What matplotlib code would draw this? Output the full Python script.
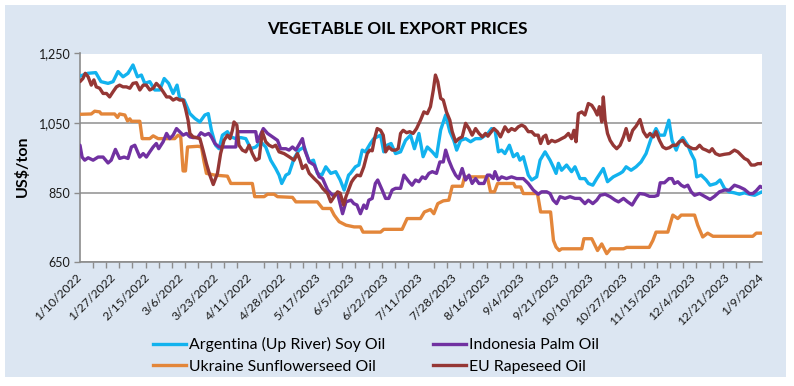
import matplotlib
matplotlib.use("Agg")
import matplotlib.pyplot as plt
from matplotlib.patches import Rectangle
from matplotlib.lines import Line2D
from matplotlib.ticker import FuncFormatter

plt.rcParams['font.family'] = ['Lato', 'DejaVu Sans']

# ---- data (x = weekday index, 0 = first date) ----
tick_labels = ["1/10/2022", "1/27/2022", "2/15/2022", "3/6/2022", "3/23/2022", "4/11/2022",
               "4/28/2022", "5/17/2023", "6/5/2023", "6/22/2023", "7/11/2023", "7/28/2023",
               "8/16/2023", "9/4/2023", "9/21/2023", "10/10/2023", "10/27/2023", "11/15/2023",
               "12/4/2023", "12/21/2023", "1/9/2024"]

arg_x = [0, 3, 6, 8, 10.7, 12.6, 14.5, 16.4, 18.3, 20.2, 21.9, 23.4, 24.7, 26.6, 28.5, 30.4, 32.1,
         33.8, 35.5, 37, 38, 39.7, 41.9, 43.8, 45.7, 47.6, 48.9, 50.1, 51.7, 53, 54.3, 56.2, 57.5,
         59.4, 61.3, 63.2, 65.1, 67, 68.9, 70.8, 72.7, 74.6, 75.9, 76.9, 78.5, 79.7, 81.6, 83.5,
         85.5, 87.4, 89, 90.5, 92.2, 93.7, 95.6, 97.5, 99.2, 100.7, 102.4, 103.1, 105, 106.3,
         107.6, 108.8, 110.7, 112, 113.3, 114.6, 115.8, 117.1, 118.6, 120.3, 122.2, 124.1, 126,
         127.5, 129.2, 130.8, 132.4, 134.3, 135.9, 137.5, 139.4, 141, 142.5, 143.6, 145.1, 147,
         148.9, 150.8, 152.7, 154.6, 155.5, 156.9, 158.2, 159.5, 160.7, 162, 163.7, 165.2, 166.7,
         167.7, 169, 170.9, 172.2, 174.1, 175.4, 177.3, 179.2, 180.4, 181.5, 182.4, 183.6, 185.5,
         187.4, 188.7, 190.6, 192.5, 193.8, 195.5, 197, 199.5, 201.1, 203.3, 205.9, 206.9, 208.2,
         210.1, 212, 213.9, 215.8, 217.7, 219.6, 220.9, 222.8, 224.5, 225.7, 227.3, 228.5, 229.8,
         231.7, 233, 234.3, 235.1, 236.8, 238.7, 240.2, 242.5, 244, 245.7, 247.4, 249.5, 251.4,
         253.3, 255.2, 257.2, 259.1, 260]
arg_v = [1185, 1193, 1195, 1169, 1164, 1169, 1198, 1183, 1193, 1217, 1183, 1188, 1164, 1169, 1145,
         1145, 1178, 1164, 1135, 1159, 1121, 1116, 1077, 1063, 1053, 1073, 1077, 1029, 986, 976,
         1015, 1025, 1010, 1005, 1008, 1005, 976, 981, 996, 981, 943, 919, 900, 876, 900, 905, 948,
         972, 981, 938, 943, 905, 900, 924, 905, 910, 886, 857, 900, 905, 924, 929, 972, 967, 991,
         1005, 1010, 1015, 967, 986, 991, 962, 967, 1000, 1015, 976, 1020, 953, 981, 967, 953, 1030,
         1073, 1025, 1000, 972, 1000, 1005, 996, 1005, 1005, 1015, 1020, 1034, 1030, 967, 972, 962,
         986, 953, 962, 943, 953, 900, 886, 895, 943, 967, 943, 924, 905, 934, 914, 929, 910, 924,
         890, 890, 876, 871, 890, 919, 881, 895, 905, 910, 924, 914, 924, 938, 962, 1005, 1034,
         1015, 1015, 1058, 1000, 972, 996, 1008, 986, 962, 943, 895, 900, 886, 871, 876, 886, 862,
         852, 849, 845, 849, 845, 842, 849, 852]

ukr_x = [0, 4.3, 5.6, 7.5, 8.1, 13.2, 14.3, 15.1, 17.1, 18.1, 19, 19.6, 22.8, 23.7, 26.6, 27.9,
         29.8, 36.1, 37.4, 38.4, 39.3, 40.2, 41, 45, 46.3, 47.3, 48.2, 51.4, 56.2, 57.5, 65.7, 66.6,
         70.2, 71.5, 74, 75.3, 81, 82.3, 90.5, 92.5, 95.6, 96.9, 98.8, 101.4, 104.5, 106.9, 107.9,
         114.6, 115.8, 122.8, 124.7, 129.8, 131.3, 133.6, 134.9, 136.4, 138.5, 140.6, 141.9, 145.7,
         146.6, 155.3, 156.5, 158, 159.2, 165.3, 166, 168, 169, 174.4, 175.6, 179.4, 180.5, 181.5,
         182.7, 183.6, 191.3, 192.1, 195.1, 197.3, 198.9, 200.8, 202.3, 207.2, 208.4, 217, 218.4,
         219.6, 224.1, 226, 227.9, 229.2, 234.3, 235.5, 237.4, 239.3, 241.3, 256.5, 257.8, 260]
ukr_v = [1075, 1076, 1084, 1082, 1076, 1076, 1066, 1076, 1073, 1056, 1062, 1055, 1055, 1005, 1005,
         1013, 1005, 1005, 1015, 1010, 912, 912, 981, 983, 981, 938, 905, 900, 897, 876, 876, 838,
         838, 845, 845, 838, 836, 823, 823, 804, 804, 785, 766, 756, 751, 751, 736, 736, 744, 744,
         775, 775, 794, 801, 789, 818, 826, 828, 868, 868, 895, 895, 852, 852, 876, 876, 866, 866,
         847, 847, 794, 794, 712, 693, 683, 688, 688, 717, 717, 683, 702, 674, 688, 688, 692, 692,
         712, 736, 736, 785, 775, 785, 785, 756, 722, 733, 724, 724, 733, 733]

ind_x = [0, 0.8, 1.8, 3.1, 5, 6.9, 8.8, 10.7, 11.9, 13.5, 15.1, 16.8, 18.3, 19.6, 20.9, 22.8, 24.1,
         25.3, 26.6, 27.9, 29.1, 30, 31.7, 33, 34.2, 35.5, 36.8, 38, 39.3, 40.6, 41.9, 43.1, 44.8,
         46.1, 47.6, 49.1, 50.1, 51.4, 53, 56, 59.4, 60, 67, 67.6, 69.9, 71.5, 73.4, 75.3, 76.5,
         78.5, 79.7, 81, 82.3, 84.8, 85.7, 87.4, 89.3, 91.2, 92.5, 94.4, 96.3, 98.2, 100.1, 101.4,
         103.3, 104.4, 105.6, 106.9, 108.2, 109.2, 110.1, 111.4, 112.6, 113.5, 115.2, 116.5, 117.7,
         119, 120.3, 122.2, 123.5, 125.4, 126.6, 127.9, 129.2, 130.5, 131.7, 133, 134.3, 135.9,
         137.2, 138.5, 139.4, 140.6, 141.9, 143.2, 144.4, 145.7, 147, 148.3, 149.5, 150.8, 152.1,
         154, 155.3, 156.3, 157.5, 158.2, 159.5, 160.7, 162.6, 164.5, 166.5, 169, 170.9, 172.8,
         174.7, 176, 177.9, 179.2, 180.4, 181.7, 183, 184.9, 186.8, 188.7, 190.6, 192.5, 193.8,
         195.5, 197, 198.3, 200.2, 202.1, 204, 205.3, 207.2, 208.8, 210.5, 212, 213.3, 215.2,
         217.1, 219, 220.3, 221.2, 222.8, 224.5, 225.7, 226.6, 227.9, 229.2, 230.4, 231.7, 233,
         234.3, 236.2, 238.1, 240.2, 241.9, 243.8, 245.7, 247.6, 249.5, 251.4, 253.3, 255.2, 256.5,
         257.8, 259.3, 260]
ind_v = [986, 952, 943, 950, 943, 952, 952, 935, 943, 974, 948, 952, 948, 981, 986, 952, 962, 952,
         967, 981, 991, 976, 996, 1020, 1005, 1015, 1034, 1025, 1015, 1020, 1010, 1008, 1008, 1022,
         1015, 1020, 1010, 991, 981, 981, 981, 1025, 1025, 996, 1034, 1020, 1010, 1000, 976, 976,
         972, 981, 972, 1005, 972, 938, 929, 895, 890, 857, 842, 847, 789, 823, 828, 818, 814, 789,
         814, 804, 828, 833, 876, 886, 857, 833, 833, 857, 862, 862, 900, 881, 871, 886, 881, 895,
         890, 905, 910, 905, 938, 938, 972, 943, 919, 900, 890, 919, 886, 900, 876, 890, 876, 876,
         900, 900, 890, 910, 886, 895, 890, 895, 890, 890, 876, 857, 845, 852, 852, 847, 828, 818,
         838, 833, 838, 833, 833, 818, 828, 818, 828, 842, 845, 838, 828, 823, 833, 823, 814, 833,
         847, 845, 839, 839, 842, 878, 878, 890, 890, 876, 881, 871, 866, 871, 852, 842, 847, 839,
         830, 839, 852, 857, 857, 871, 866, 859, 847, 847, 855, 868, 864]

eu_x = [0, 1.1, 2, 3.1, 4.3, 5.3, 6.2, 7.5, 8.8, 10.1, 11.3, 12.6, 13.9, 15.1, 16.4, 17.7, 19, 20.2,
        21.5, 22.8, 24.1, 25.3, 26.6, 27.9, 29.1, 30.4, 31.7, 33, 34.2, 35.5, 36.8, 38, 39.3, 40.2,
        41.2, 41.9, 43.1, 44.4, 45.7, 46.9, 48.2, 49.5, 50.8, 52.4, 53.6, 54.9, 56.2, 57.2, 58.1,
        58.7, 59.8, 60.6, 61.9, 63.2, 64.5, 65.7, 67, 68.3, 69.5, 70.8, 72.1, 73.4, 74.6, 75.9, 77.8,
        79.7, 81.6, 82.9, 83.9, 84.8, 86.1, 87.4, 89.3, 91.2, 92.5, 94.4, 95.6, 96.9, 98.2, 99.2,
        100.5, 101.4, 102.6, 103.5, 104.4, 105.6, 106.9, 108.2, 109.5, 110.5, 111.4, 112.3, 113.3,
        114.6, 115.6, 116.5, 117.7, 119, 120.3, 121.3, 122.2, 123.2, 124.5, 125.7, 127, 128.3,
        129.8, 131.1, 132.4, 133.6, 134.7, 135.5, 136.4, 137.5, 138.5, 139.7, 141, 141.9, 143.2,
        144.4, 145.7, 147, 148.3, 149.5, 150.8, 152.1, 153.4, 154.6, 155.5, 156.3, 157.8, 159.1,
        160.3, 162, 163.3, 164.5, 165.8, 167.1, 168.4, 169.6, 170.9, 172.2, 173.4, 174.7, 175.6,
        176.6, 177.6, 178.5, 179.8, 181.1, 182.4, 183.6, 184.9, 186.2, 187.4, 188.3, 189.1, 190,
        191.3, 192.5, 193.8, 195.1, 196.3, 197.2, 198, 198.9, 199.5, 200.2, 201.1, 202.1, 203.3,
        204.6, 205.9, 207.2, 208.2, 209.4, 210.7, 212, 213.5, 214.8, 216.1, 217.3, 218.6, 219.6,
        220.9, 222.2, 223.4, 224.7, 226, 227.3, 228.5, 229.8, 231.1, 232.3, 233.6, 234.9, 236.2,
        237.4, 238.7, 240, 241, 242.3, 243.8, 245.7, 247.6, 249.5, 250.8, 252.1, 253.3, 254.6,
        255.9, 257.2, 258.4, 259.7, 260]
eu_v = [1169, 1178, 1193, 1183, 1159, 1174, 1154, 1150, 1135, 1135, 1125, 1140, 1154, 1159, 1154,
        1154, 1150, 1164, 1166, 1145, 1159, 1159, 1145, 1150, 1164, 1154, 1140, 1125, 1125, 1116,
        1121, 1116, 1116, 1092, 1058, 1020, 1010, 1008, 1005, 972, 933, 900, 873, 905, 962, 1000,
        1015, 1005, 1029, 1053, 1044, 986, 972, 967, 986, 962, 943, 948, 1025, 996, 986, 981, 986,
        967, 962, 953, 943, 962, 943, 919, 929, 905, 890, 876, 862, 847, 823, 838, 852, 848, 814,
        838, 862, 880, 890, 900, 898, 924, 962, 972, 970, 1005, 1034, 1029, 1015, 967, 981, 972,
        972, 976, 1020, 1029, 1022, 1025, 1020, 1034, 1058, 1082, 1077, 1097, 1145, 1188, 1169,
        1121, 1116, 1082, 1058, 1025, 996, 1005, 1010, 1049, 1034, 1015, 1034, 1020, 1010, 1020,
        1012, 1020, 1034, 1025, 1010, 1039, 1025, 1034, 1029, 1039, 1044, 1039, 1025, 1025, 1015,
        1015, 991, 1010, 1015, 991, 1000, 996, 1000, 1005, 1010, 1020, 1005, 1029, 996, 1077, 1082,
        1073, 1106, 1101, 1087, 1073, 1097, 1053, 1125, 1058, 1020, 1000, 986, 976, 986, 1010,
        1034, 1000, 1029, 1041, 1060, 1025, 1010, 1020, 1010, 1025, 1000, 981, 976, 979, 986, 986,
        996, 1000, 986, 981, 976, 976, 986, 976, 972, 967, 976, 962, 957, 960, 962, 972, 967, 957,
        948, 943, 929, 929, 933, 933, 935]

names = ["Argentina (Up River) Soy Oil", "Ukraine Sunflowerseed Oil",
         "Indonesia Palm Oil", "EU Rapeseed Oil"]
colors = ["#12B2EE", "#E3863A", "#7131A1", "#953735"]

# ---- figure ----
W, H = 794, 386
fig = plt.figure(figsize=(W / 100, H / 100), dpi=100, facecolor="white")
fig.patches.append(Rectangle((5 / W, 1 - 377 / H), 781 / W, 372 / H, transform=fig.transFigure,
                             facecolor="#DCE6F2", edgecolor="none", zorder=-10))

ax = fig.add_axes([80 / W, 1 - 262 / H, 682 / W, 208.5 / H])
ax.set_zorder(2)
ax.set_facecolor("white")

series = [(arg_x, arg_v), (ukr_x, ukr_v), (ind_x, ind_v), (eu_x, eu_v)]
order = [1, 0, 2, 3]  # draw order
for i in order:
    xs, vs = series[i]
    ax.plot(xs, vs, color=colors[i], lw=2.4, solid_joinstyle="round", solid_capstyle="round",
            zorder=3 + i)

ax.set_xlim(0, 260)
ax.set_ylim(650, 1250)
ax.set_yticks([650, 850, 1050, 1250])
ax.yaxis.set_major_formatter(FuncFormatter(lambda v, p: f"{int(v):,}"))
ax.grid(axis="y", color="#A0A0A0", lw=1.3, zorder=1)
ax.set_axisbelow(True)

ax.set_xticks([13 * i for i in range(len(tick_labels))])
ax.set_xticklabels(tick_labels, rotation=45, ha="right", va="center", rotation_mode="anchor",
                   fontsize=8.8, color="#1A1A1A")
ax.set_xticks(list(range(0, 261, 5)), minor=True)
ax.tick_params(axis="x", which="major", length=0, pad=10)
ax.tick_params(axis="x", which="minor", length=4, color="#8C8C8C", width=1)
ax.tick_params(axis="y", length=4, color="#8C8C8C", width=1, labelsize=9, pad=3,
               labelcolor="#1A1A1A")

for s in ["top", "right"]:
    ax.spines[s].set_visible(False)
for s in ["left", "bottom"]:
    ax.spines[s].set_color("#8C8C8C")
    ax.spines[s].set_linewidth(1.2)

fig.text(0.5, 1 - 29 / H, "VEGETABLE OIL EXPORT PRICES", ha="center", va="center",
         fontsize=12.3, fontweight="bold", color="black")
fig.text(22 / W, 1 - 166 / H, "US$/ton", rotation=90, ha="center", va="center",
         fontsize=11.5, fontweight="bold")

handles = [Line2D([0], [0], color=colors[i], lw=2.4) for i in range(4)]
fig.legend(handles, names, ncol=2, loc="center", bbox_to_anchor=(376 / W, 1 - 355.5 / H),
           frameon=False, fontsize=11.4, handlelength=2.1, handletextpad=0.2,
           columnspacing=3.0, labelspacing=0.45, borderpad=0, borderaxespad=0)

fig.savefig("out.png", dpi=100, facecolor="white")
